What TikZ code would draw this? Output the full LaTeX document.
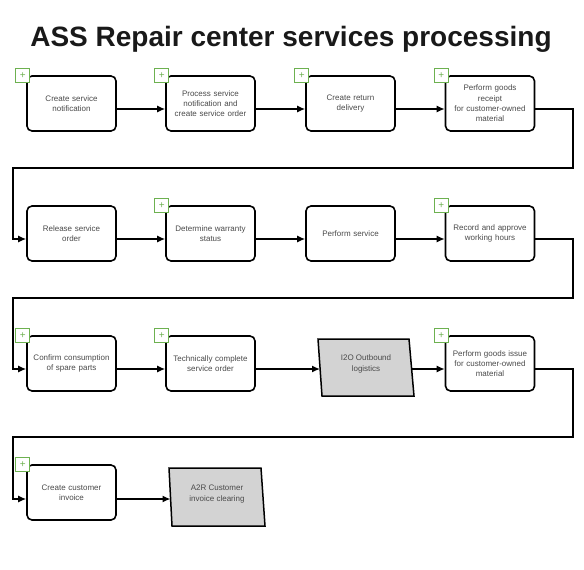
\documentclass[tikz,border=0pt]{standalone}
\usepackage{fontspec}
\setmainfont{Liberation Sans}
\usetikzlibrary{arrows.meta,calc}
\definecolor{txtgray}{HTML}{4A4A4A}
\definecolor{plusgreen}{HTML}{6DB150}
\definecolor{extgray}{HTML}{D3D3D3}
\tikzset{
  task/.style={draw=black, line width=1.6pt, rounded corners=5pt, fill=white,
    minimum width=89pt, minimum height=55pt, inner sep=1pt, align=center,
    text=txtgray, font=\fontsize{8}{10.3}\selectfont, text width=86pt},
  exttext/.style={align=center, text=txtgray, font=\fontsize{8}{10.3}\selectfont,
    minimum width=90pt, minimum height=56pt, inner sep=0pt},
  extshape/.style={draw=black, line width=1.5pt, fill=extgray},
  plusbox/.style={draw=plusgreen, line width=1.3pt, fill=white, minimum size=14pt,
    inner sep=0pt, text=plusgreen, font=\fontsize{10}{10}\selectfont},
  arr/.style={line width=1.4pt, -{Latex[length=8pt,width=7pt]}},
  ttl/.style={font=\fontsize{28}{30}\selectfont\bfseries, text=black!90, inner sep=0pt, anchor=base}
}
\newcommand{\plusmark}[1]{\node[plusbox] at ($(#1.north west)+(-3.5pt,-0.5pt)$) {+};}
\begin{document}
\begin{tikzpicture}[x=1pt,y=-1pt]
\useasboundingbox (0,0) rectangle (584,570);
\node[ttl] (title) at (291,46) {ASS Repair center services processing};

% Row 1
\node[task] (n1) at (71.5,103.5) {Create service\\notification};
\node[task] (n2) at (210.5,103.5) {Process service\\notification and\\create service order};
\node[task] (n3) at (350.5,103.5) {Create return\\delivery};
\node[task] (n4) at (490,103.5) {Perform goods\\receipt\\for customer-owned\\material};
% Row 2
\node[task] (n5) at (71.5,233.5) {Release service\\order};
\node[task] (n6) at (210.5,233.5) {Determine warranty\\status};
\node[task] (n7) at (350.5,233.5) {Perform service};
\node[task] (n8) at (490,233.5) {Record and approve\\working hours};
% Row 3
\node[task] (n9) at (71.5,363.5) {Confirm consumption\\of spare parts};
\node[task] (n10) at (210.5,363.5) {Technically complete\\service order};
\draw[extshape] (318,339) -- (409,339) -- (414,396) -- (322,396) -- cycle;
\node[exttext] (n11) at (366,364) {I2O Outbound\\logistics};
\node[task] (n12) at (490,363.5) {Perform goods issue\\for customer-owned\\material};
% Row 4
\node[task] (n13) at (71.5,492.5) {Create customer\\invoice};
\draw[extshape] (169,468) -- (261,468) -- (265,526) -- (172,526) -- cycle;
\node[exttext] (n14) at (217,494) {A2R Customer\\invoice clearing};

% connectors row 1
\draw[arr] ([yshift=-5.5pt]n1.east) -- ([yshift=-5.5pt]n2.west);
\draw[arr] ([yshift=-5.5pt]n2.east) -- ([yshift=-5.5pt]n3.west);
\draw[arr] ([yshift=-5.5pt]n3.east) -- ([yshift=-5.5pt]n4.west);
% wrap 1
\coordinate (w1a) at (573,168);
\coordinate (w1b) at (13,168);
\draw[arr] ([yshift=-5.5pt]n4.east) -| (w1a) -- (w1b) |- ([yshift=-5.5pt]n5.west);
% row 2
\draw[arr] ([yshift=-5.5pt]n5.east) -- ([yshift=-5.5pt]n6.west);
\draw[arr] ([yshift=-5.5pt]n6.east) -- ([yshift=-5.5pt]n7.west);
\draw[arr] ([yshift=-5.5pt]n7.east) -- ([yshift=-5.5pt]n8.west);
% wrap 2
\coordinate (w2a) at (573,298);
\coordinate (w2b) at (13,298);
\draw[arr] ([yshift=-5.5pt]n8.east) -| (w2a) -- (w2b) |- ([yshift=-5.5pt]n9.west);
% row 3
\draw[arr] ([yshift=-5.5pt]n9.east) -- ([yshift=-5.5pt]n10.west);
\coordinate (i2oin) at (320,369);
\coordinate (i2oout) at (412,369);
\draw[arr] ([yshift=-5.5pt]n10.east) -- (i2oin);
\draw[arr] (i2oout) -- ([yshift=-5.5pt]n12.west);
% wrap 3
\coordinate (w3a) at (573,437);
\coordinate (w3b) at (13,437);
\draw[arr] ([yshift=-5.5pt]n12.east) -| (w3a) -- (w3b) |- ([yshift=-6.5pt]n13.west);
% row 4
\coordinate (a2rin) at (170.5,499);
\draw[arr] ([yshift=-6.5pt]n13.east) -- (a2rin);

% plus markers
\plusmark{n1}\plusmark{n2}\plusmark{n3}\plusmark{n4}
\plusmark{n6}\plusmark{n8}
\plusmark{n9}\plusmark{n10}\plusmark{n12}
\plusmark{n13}
\end{tikzpicture}
\end{document}
